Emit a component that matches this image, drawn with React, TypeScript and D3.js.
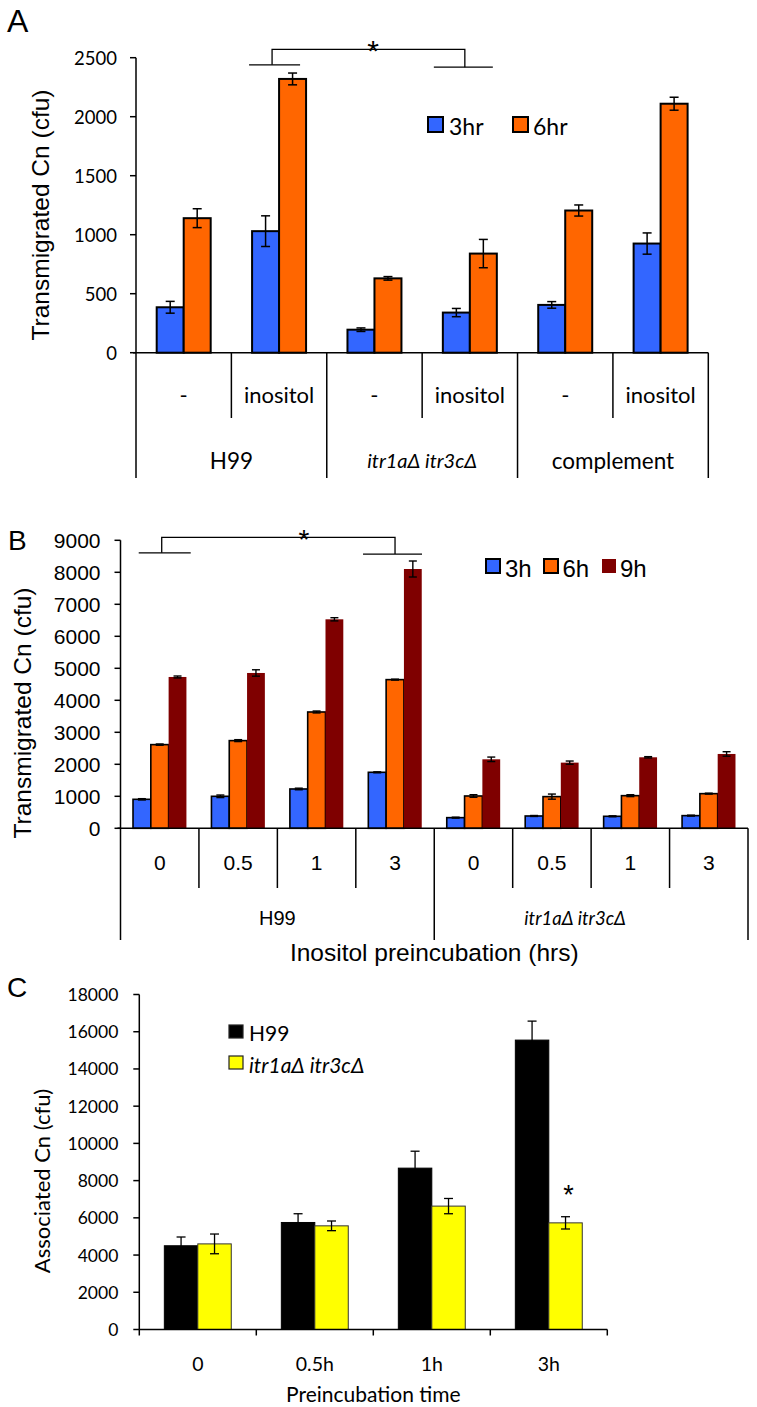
import React from "react";
import * as d3 from "d3";

// ---------- Panel A data ----------
const aCategories = ["-", "inositol", "-", "inositol", "-", "inositol"];
const aGroups = ["H99", "itr1aΔ itr3cΔ", "complement"];
const a3hr = [385, 1030, 195, 340, 405, 925];
const a3hrErr = [50, 130, 15, 35, 28, 90];
const a6hr = [1140, 2320, 630, 840, 1205, 2110];
const a6hrErr = [80, 50, 15, 120, 47, 55];
const aTicks = [0, 500, 1000, 1500, 2000, 2500];
const aLegend = ["3hr", "6hr"];

// ---------- Panel B data ----------
const bCategories = ["0", "0.5", "1", "3", "0", "0.5", "1", "3"];
const bGroups = ["H99", "itr1aΔ itr3cΔ"];
const b3h = [906, 1000, 1229, 1750, 333, 385, 375, 396];
const b3hErr = [20, 40, 25, 15, 15, 15, 15, 15];
const b6h = [2615, 2740, 3635, 4646, 1010, 990, 1020, 1083];
const b6hErr = [20, 30, 30, 15, 40, 80, 30, 15];
const b9h = [4729, 4854, 6531, 8103, 2156, 2052, 2219, 2323];
const b9hErr = [30, 100, 50, 250, 70, 50, 20, 70];
const bTicks = [0, 1000, 2000, 3000, 4000, 5000, 6000, 7000, 8000, 9000];
const bLegend = ["3h", "6h", "9h"];

// ---------- Panel C data ----------
const cCategories = ["0", "0.5h", "1h", "3h"];
const cH99 = [4500, 5750, 8670, 15550];
const cH99Err = [470, 470, 910, 1020];
const cItr = [4600, 5570, 6630, 5730];
const cItrErr = [530, 260, 410, 330];
const cTicks = [0, 2000, 4000, 6000, 8000, 10000, 12000, 14000, 16000, 18000];
const cLegend = ["H99", "itr1aΔ itr3cΔ"];

const BLUE = "#3366FF";
const ORANGE = "#FF6600";
const DARKRED = "#7F0000";
const YELLOW = "#FFFF00";

const ARIAL = "'Liberation Sans', Arial, sans-serif";
const CAL = "Lato, 'Open Sans', sans-serif";

function ErrBar({ x, y0, y1, w, sw = 1.5 }: { x: number; y0: number; y1: number; w: number; sw?: number }) {
  return (
    <g stroke="#000" strokeWidth={sw}>
      <line x1={x} x2={x} y1={y0} y2={y1} />
      <line x1={x - w} x2={x + w} y1={y0} y2={y0} />
      <line x1={x - w} x2={x + w} y1={y1} y2={y1} />
    </g>
  );
}

function PanelA() {
  const y = d3.scaleLinear().domain([0, 2500]).range([352.7, 57.7]);
  const x = d3.scaleBand<number>().domain(d3.range(aCategories.length)).range([136, 708.3]).padding(0);
  const step = x.bandwidth();
  const bw = step * 0.283;
  const base = y(0);
  const axisX = x.range()[0];
  const series = [
    { v: a3hr, e: a3hrErr, c: BLUE, off: -bw },
    { v: a6hr, e: a6hrErr, c: ORANGE, off: 0 },
  ];
  const gx = (g: number) => x(g * 2)! + step; // group center
  return (
    <g>
      <text x={7} y={32} fontFamily={ARIAL} fontSize={32}>A</text>
      <text transform={`translate(40,215) rotate(-90)`} textAnchor="middle" dominantBaseline="central" fontFamily={ARIAL} fontSize={24.5}>
        Transmigrated Cn (cfu)
      </text>
      <line x1={axisX} x2={axisX} y1={y(2500)} y2={base} stroke="#000" strokeWidth={1.5} />
      {aTicks.map((t) => (
        <g key={t}>
          <line x1={axisX - 6} x2={axisX} y1={y(t)} y2={y(t)} stroke="#000" strokeWidth={1.5} />
          <text x={axisX - 19} y={y(t)} textAnchor="end" dominantBaseline="central" fontFamily={CAL} fontSize={18.5}>
            {t}
          </text>
        </g>
      ))}
      {series.map((s, si) =>
        s.v.map((v, i) => {
          const cx = x(i)! + step / 2;
          return (
            <g key={`${si}-${i}`}>
              <rect x={cx + s.off} y={y(v)} width={bw} height={base - y(v)} fill={s.c} stroke="#000" strokeWidth={2} />
              <ErrBar x={cx + s.off + bw / 2} y0={y(v + s.e[i])} y1={y(v - s.e[i])} w={4.5} />
            </g>
          );
        })
      )}
      <line x1={axisX - 3} x2={x.range()[1]} y1={base} y2={base} stroke="#000" strokeWidth={1.5} />
      {d3.range(aCategories.length + 1).map((i) => {
        const xx = axisX + i * step;
        const long = i % 2 === 0;
        return <line key={i} x1={xx} x2={xx} y1={base} y2={long ? 478 : 418} stroke="#000" strokeWidth={1.5} />;
      })}
      {aCategories.map((c, i) => (
        <text key={i} x={x(i)! + step / 2} y={394} textAnchor="middle" dominantBaseline="central" fontFamily={CAL} fontSize={22}>
          {c}
        </text>
      ))}
      {aGroups.map((g, i) => (
        <text key={i} x={gx(i)} y={460} textAnchor="middle" dominantBaseline="central" fontFamily={CAL} fontSize={i === 1 ? 20 : 22.5} fontStyle={i === 1 ? "italic" : "normal"}>
          {g}
        </text>
      ))}
      {aLegend.map((l, i) => (
        <g key={l}>
          <rect x={428 + i * 85} y={117} width={15} height={15} fill={i === 0 ? BLUE : ORANGE} stroke="#000" strokeWidth={2} />
          <text x={449 + i * 84} y={126} dominantBaseline="central" fontFamily={CAL} fontSize={23}>
            {l}
          </text>
        </g>
      ))}
      <g stroke="#000" strokeWidth={1.3} fill="none">
        <polyline points={`${x(1)! + step / 2 - 30},${y(2440)} ${x(1)! + step / 2 + 21},${y(2440)}`} />
        <polyline points={`${x(1)! + step / 2 - 7},${y(2440)} ${x(1)! + step / 2 - 7},${y(2570)} ${x(3)! + step / 2 - 5},${y(2570)} ${x(3)! + step / 2 - 5},${y(2420)}`} />
        <polyline points={`${x(3)! + step / 2 - 36},${y(2420)} ${x(3)! + step / 2 + 23},${y(2420)}`} />
      </g>
      <text x={373} y={61} textAnchor="middle" fontFamily={ARIAL} fontSize={30}>*</text>
    </g>
  );
}

function PanelB() {
  const y = d3.scaleLinear().domain([0, 9000]).range([828.3, 540.3]);
  const x = d3.scaleBand<number>().domain(d3.range(bCategories.length)).range([120.5, 748]).padding(0);
  const step = x.bandwidth();
  const bw = step * 0.227;
  const base = y(0);
  const axisX = x.range()[0];
  const series = [
    { v: b3h, e: b3hErr, c: BLUE, off: -1.5 * bw, stroke: true },
    { v: b6h, e: b6hErr, c: ORANGE, off: -0.5 * bw, stroke: true },
    { v: b9h, e: b9hErr, c: DARKRED, off: 0.5 * bw, stroke: false },
  ];
  const cx = (i: number) => x(i)! + step / 2;
  return (
    <g>
      <text x={8} y={550} fontFamily={ARIAL} fontSize={28}>B</text>
      <text transform={`translate(22,713) rotate(-90)`} textAnchor="middle" dominantBaseline="central" fontFamily={ARIAL} fontSize={24.5}>
        Transmigrated Cn (cfu)
      </text>
      <line x1={axisX} x2={axisX} y1={y(9000)} y2={base} stroke="#000" strokeWidth={1.5} />
      {bTicks.map((t) => (
        <g key={t}>
          <line x1={axisX - 6} x2={axisX} y1={y(t)} y2={y(t)} stroke="#000" strokeWidth={1.5} />
          <text x={axisX - 20} y={y(t)} textAnchor="end" dominantBaseline="central" fontFamily={ARIAL} fontSize={21}>
            {t}
          </text>
        </g>
      ))}
      {series.map((s, si) =>
        s.v.map((v, i) => (
          <g key={`${si}-${i}`}>
            <rect
              x={cx(i) + s.off}
              y={y(v)}
              width={bw}
              height={base - y(v)}
              fill={s.c}
              stroke={s.stroke ? "#000" : "none"}
              strokeWidth={1.6}
            />
            <ErrBar x={cx(i) + s.off + bw / 2} y0={y(v + s.e[i])} y1={y(v - s.e[i])} w={4} sw={1.4} />
          </g>
        ))
      )}
      <line x1={axisX - 3} x2={x.range()[1]} y1={base} y2={base} stroke="#000" strokeWidth={1.5} />
      {d3.range(bCategories.length + 1).map((i) => {
        const xx = axisX + i * step;
        const long = i % 4 === 0;
        return <line key={i} x1={xx} x2={xx} y1={base} y2={long ? 940 : 888} stroke="#000" strokeWidth={1.5} />;
      })}
      {bCategories.map((c, i) => (
        <text key={i} x={cx(i)} y={862} textAnchor="middle" dominantBaseline="central" fontFamily={ARIAL} fontSize={21}>
          {c}
        </text>
      ))}
      <text x={(cx(0) + cx(3)) / 2} y={918} textAnchor="middle" dominantBaseline="central" fontFamily={ARIAL} fontSize={20}>
        {bGroups[0]}
      </text>
      <text x={(cx(4) + cx(7)) / 2 - 16} y={918} textAnchor="middle" dominantBaseline="central" fontFamily={CAL} fontStyle="italic" fontSize={18.5}>
        {bGroups[1]}
      </text>
      <text x={(axisX + x.range()[1]) / 2} y={952} textAnchor="middle" dominantBaseline="central" fontFamily={ARIAL} fontSize={24.5}>
        Inositol preincubation (hrs)
      </text>
      {bLegend.map((l, i) => (
        <g key={l}>
          <rect
            x={486 + i * 58}
            y={559}
            width={14}
            height={14}
            fill={[BLUE, ORANGE, DARKRED][i]}
            stroke={i < 2 ? "#000" : "none"}
            strokeWidth={2}
          />
          <text x={505 + i * 57.5} y={568} dominantBaseline="central" fontFamily={ARIAL} fontSize={24}>
            {l}
          </text>
        </g>
      ))}
      <g stroke="#000" strokeWidth={1.3} fill="none">
        <polyline points={`${cx(0) - 21},${y(8610)} ${cx(0) + 31},${y(8610)}`} />
        <polyline points={`${cx(0) + 2},${y(8610)} ${cx(0) + 2},${y(9090)} ${cx(3)},${y(9090)} ${cx(3)},${y(8570)}`} />
        <polyline points={`${cx(3) - 32},${y(8570)} ${cx(3) + 27},${y(8570)}`} />
      </g>
      <text x={304} y={549} textAnchor="middle" fontFamily={ARIAL} fontSize={28}>*</text>
    </g>
  );
}

function PanelC() {
  const y = d3.scaleLinear().domain([0, 18000]).range([1329.5, 994.5]);
  const x = d3.scaleBand<number>().domain(d3.range(cCategories.length)).range([139.3, 607.3]).padding(0);
  const step = x.bandwidth();
  const bw = step * 0.286;
  const base = y(0);
  const axisX = x.range()[0];
  const cx = (i: number) => x(i)! + step / 2;
  const series = [
    { v: cH99, e: cH99Err, c: "#000", off: -bw, stroke: "#000" },
    { v: cItr, e: cItrErr, c: YELLOW, off: 0, stroke: "#333" },
  ];
  return (
    <g>
      <text x={7} y={997} fontFamily={ARIAL} fontSize={28}>C</text>
      <text transform={`translate(41,1181) rotate(-90)`} textAnchor="middle" dominantBaseline="central" fontFamily={CAL} fontSize={22}>
        Associated Cn (cfu)
      </text>
      <line x1={axisX} x2={axisX} y1={y(18000)} y2={base} stroke="#000" strokeWidth={1.5} />
      {cTicks.map((t) => (
        <g key={t}>
          <line x1={axisX - 6} x2={axisX} y1={y(t)} y2={y(t)} stroke="#000" strokeWidth={1.5} />
          <text x={axisX - 21} y={y(t)} textAnchor="end" dominantBaseline="central" fontFamily={CAL} fontSize={17.5}>
            {t}
          </text>
        </g>
      ))}
      {series.map((s, si) =>
        s.v.map((v, i) => (
          <g key={`${si}-${i}`}>
            <rect x={cx(i) + s.off} y={y(v)} width={bw} height={base - y(v)} fill={s.c} stroke={s.stroke} strokeWidth={1} />
            <ErrBar x={cx(i) + s.off + bw / 2} y0={y(v + s.e[i])} y1={y(v - s.e[i])} w={4.5} sw={1.3} />
          </g>
        ))
      )}
      <line x1={axisX} x2={x.range()[1]} y1={base} y2={base} stroke="#000" strokeWidth={1.5} />
      {d3.range(cCategories.length + 1).map((i) => {
        const xx = axisX + i * step;
        return <line key={i} x1={xx} x2={xx} y1={base} y2={base + 6} stroke="#000" strokeWidth={1.5} />;
      })}
      {cCategories.map((c, i) => (
        <text key={i} x={cx(i)} y={1363} textAnchor="middle" dominantBaseline="central" fontFamily={CAL} fontSize={19.5}>
          {c}
        </text>
      ))}
      <text x={(axisX + x.range()[1]) / 2} y={1393} textAnchor="middle" dominantBaseline="central" fontFamily={CAL} fontSize={21}>
        Preincubation time
      </text>
      {cLegend.map((l, i) => (
        <g key={l}>
          <rect x={229} y={1025 + i * 31} width={14} height={13} fill={i === 0 ? "#000" : YELLOW} stroke="#222" strokeWidth={1.2} />
          <text x={249} y={1032 + i * 32} dominantBaseline="central" fontFamily={CAL} fontSize={21} fontStyle={i === 1 ? "italic" : "normal"}>
            {l}
          </text>
        </g>
      ))}
      <text x={cx(3) + bw / 2 + 3} y={1204} textAnchor="middle" fontFamily={ARIAL} fontSize={27}>*</text>
    </g>
  );
}

export default function App() {
  return (
    <svg
      width={757}
      height={1407}
      viewBox="0 0 757 1407"
      style={{ position: "absolute", left: 0, top: 0, background: "#fff" }}
    >
      <rect x={0} y={0} width={757} height={1407} fill="#fff" />
      <PanelA />
      <PanelB />
      <PanelC />
    </svg>
  );
}
